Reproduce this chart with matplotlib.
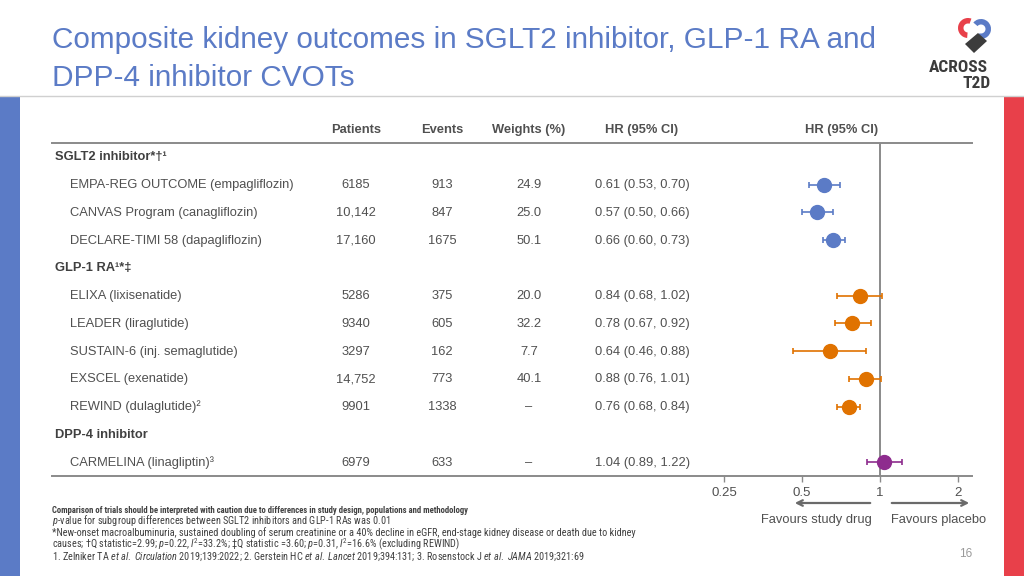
import matplotlib
matplotlib.use("Agg")
import matplotlib.pyplot as plt
import matplotlib.transforms as mtransforms
from matplotlib import font_manager
from matplotlib.patches import Rectangle, Wedge, Polygon

# data
groups = ["SGLT2 inhibitor*\u2020\u00b9", "GLP-1 RA\u00b9*\u2021", "DPP-4 inhibitor"]
group_sizes = [3, 5, 1]
group_colors = ["#5B7BC6", "#E07200", "#8E2C8E"]

trials = ["EMPA-REG OUTCOME (empagliflozin)", "CANVAS Program (canagliflozin)",
          "DECLARE-TIMI 58 (dapagliflozin)", "ELIXA (lixisenatide)",
          "LEADER (liraglutide)", "SUSTAIN-6 (inj. semaglutide)",
          "EXSCEL (exenatide)", "REWIND (dulaglutide)\u00b2",
          "CARMELINA (linagliptin)\u00b3"]
patients = [6185, 10142, 17160, 5286, 9340, 3297, 14752, 9901, 6979]
events = [913, 847, 1675, 375, 605, 162, 773, 1338, 633]
weights = [24.9, 25.0, 50.1, 20.0, 32.2, 7.7, 40.1, None, None]
hr = [0.61, 0.57, 0.66, 0.84, 0.78, 0.64, 0.88, 0.76, 1.04]
ci_lo = [0.53, 0.50, 0.60, 0.68, 0.67, 0.46, 0.76, 0.68, 0.89]
ci_hi = [0.70, 0.66, 0.73, 1.02, 0.92, 0.88, 1.01, 0.84, 1.22]

xticks = [0.25, 0.5, 1, 2]
xtick_labels = ["0.25", "0.5", "1", "2"]

# pick a condensed face for the footnotes if one is installed
names = {f.name for f in font_manager.fontManager.ttflist}
narrow = next((n for n in ["Liberation Sans Narrow", "Roboto Condensed", "Open Sans Condensed",
                           "DejaVu Sans Condensed"] if n in names), "Liberation Sans")

plt.rcParams['font.family'] = ['Liberation Sans', 'DejaVu Sans']
plt.rcParams['mathtext.fontset'] = 'custom'
plt.rcParams['mathtext.rm'] = narrow
plt.rcParams['mathtext.it'] = narrow + ':italic'

txt = "#505050"
grey = "#8a8a8a"

fig = plt.figure(figsize=(10.24, 5.76), dpi=100)

# background axes in pixel units
bg = fig.add_axes([0, 0, 1, 1])
bg.set_xlim(0, 1024)
bg.set_ylim(576, 0)
bg.axis("off")

bg.add_patch(Rectangle((0, 97), 20, 479, color="#5B7BC6", lw=0))
bg.add_patch(Rectangle((1004, 97), 20, 479, color="#E8404A", lw=0))
bg.plot([0, 1024], [96, 96], color="#d0d0d0", lw=1)

bg.text(52, 59, "Composite kidney outcomes in SGLT2 inhibitor, GLP-1 RA and\nDPP-4 inhibitor CVOTs",
        fontsize=21.4, color="#5B7BC6", va="center", ha="left", linespacing=1.45)

# logo
bg.add_patch(Wedge((968, 28), 10, 95, 290, width=5.5, color="#E8404A", lw=0))
bg.add_patch(Wedge((981, 29), 10, -140, 110, width=5.5, color="#5B7BC6", lw=0))
bg.add_patch(Polygon([(965, 44), (978, 33), (987, 41), (974, 53)], closed=True, color="#3C3C3C", lw=0))
bg.text(958, 68, "ACROSS", fontsize=12.5, fontweight="bold", color="#3C3C3C",
        ha="center", va="center", family=[narrow, "Liberation Sans"])
bg.text(991, 83, "T2D", fontsize=12.5, fontweight="bold", color="#3C3C3C",
        ha="right", va="center", family=[narrow, "Liberation Sans"])

# forest plot axes
n_rows = len(groups) + len(trials)
top_px, bot_px, left_px, right_px = 143, 476, 690, 972
ax = fig.add_axes([left_px / 1024, (576 - bot_px) / 576,
                   (right_px - left_px) / 1024, (bot_px - top_px) / 576])
ax.set_xscale("log")
x0 = 2 ** ((left_px - 880) / 78)
x1 = 2 ** ((right_px - 880) / 78)
ax.set_xlim(x0, x1)
ax.set_ylim(n_rows - 0.5, -0.5)
ax.patch.set_alpha(0)
for s in ax.spines.values():
    s.set_visible(False)
ax.set_yticks([])
ax.minorticks_off()
ax.set_xticks(xticks)
ax.set_xticklabels(xtick_labels)
ax.tick_params(axis="x", length=4, width=1, color=grey, labelcolor=txt, labelsize=9.5, pad=4)
ax.axvline(1, color=grey, lw=1.4)

bg.plot([52, 972], [top_px, top_px], color=grey, lw=1.4)
bg.plot([52, 972], [bot_px, bot_px], color=grey, lw=1.4)

tr = mtransforms.blended_transform_factory(bg.transData, ax.transData)

fs = 9.3
base = 0.13  # baseline sits a little below the row centre
# header
hdr = dict(fontsize=fs, fontweight="bold", color=txt, va="baseline", ha="center", transform=tr)
bg.text(356, -1 + base, "Patients", **hdr)
bg.text(442, -1 + base, "Events", **hdr)
bg.text(529, -1 + base, "Weights (%)", **hdr)
bg.text(642, -1 + base, "HR (95% CI)", **hdr)
bg.text(842, -1 + base, "HR (95% CI)", **hdr)

row = 0
k = 0
for g, name in enumerate(groups):
    bg.text(55, row + base, name, fontsize=fs, fontweight="bold", color="#404040",
            va="baseline", ha="left", transform=tr)
    row += 1
    for j in range(group_sizes[g]):
        p = patients[k]
        ptxt = f"{p:,}" if p >= 10000 else str(p)
        wtxt = "\u2013" if weights[k] is None else f"{weights[k]:.1f}"
        cell = dict(fontsize=fs, color=txt, va="baseline", transform=tr)
        yb = row + base
        bg.text(70, yb, trials[k], ha="left", **cell)
        bg.text(356, yb, ptxt, ha="center", **cell)
        bg.text(442, yb, str(events[k]), ha="center", **cell)
        bg.text(529, yb, wtxt, ha="center", **cell)
        bg.text(595, yb, f"{hr[k]:.2f} ({ci_lo[k]:.2f}, {ci_hi[k]:.2f})", ha="left", **cell)
        ax.errorbar(hr[k], row, xerr=[[hr[k] - ci_lo[k]], [ci_hi[k] - hr[k]]],
                    fmt="o", color=group_colors[g], ms=10, elinewidth=1.2,
                    capsize=2.5, capthick=1.2)
        row += 1
        k += 1

# favours arrows
bg.annotate("", xy=(792, 503), xytext=(873, 503),
            arrowprops=dict(arrowstyle="->", color="#6a6a6a", lw=1.6))
bg.annotate("", xy=(972, 503), xytext=(889, 503),
            arrowprops=dict(arrowstyle="->", color="#6a6a6a", lw=1.6))
bg.text(816, 520, "Favours study drug", fontsize=fs, color=txt, ha="center", va="center")
bg.text(939, 520, "Favours placebo", fontsize=fs, color=txt, ha="center", va="center")
bg.text(966, 554, "16", fontsize=8.5, color="#9a9a9a", ha="center", va="center")

# footnotes
fn = dict(fontsize=7.4, color="#404040", ha="left", va="baseline", family=[narrow, "Liberation Sans"])
bg.text(52, 513, "Comparison of trials should be interpreted with caution due to differences in study design, "
        "populations and methodology", fontweight="bold",
        **{**fn, "fontsize": 6.2})
bg.text(52, 524.5, "$p$-value for subgroup differences between SGLT2 inhibitors and GLP-1 RAs was 0.01", **fn)
bg.text(52, 536, "*New-onset macroalbuminuria, sustained doubling of serum creatinine or a 40% decline in eGFR, "
        "end-stage kidney disease or death due to kidney", **fn)
bg.text(52, 547.5, "causes; \u2020Q statistic=2.99; $p$=0.22, $I^2$=33.2%; \u2021Q statistic =3.60; $p$=0.31, "
        "$I^2$=16.6% (excluding REWIND)", **fn)
bg.text(52, 559.5, r"1. Zelniker TA $et\ al.$ $Circulation$ 2019;139:2022; 2. Gerstein HC $et\ al.$ $Lancet$ "
        r"2019;394:131; 3. Rosenstock J $et\ al.$ $JAMA$ 2019;321:69", **fn)

fig.savefig("out.png", dpi=100)
